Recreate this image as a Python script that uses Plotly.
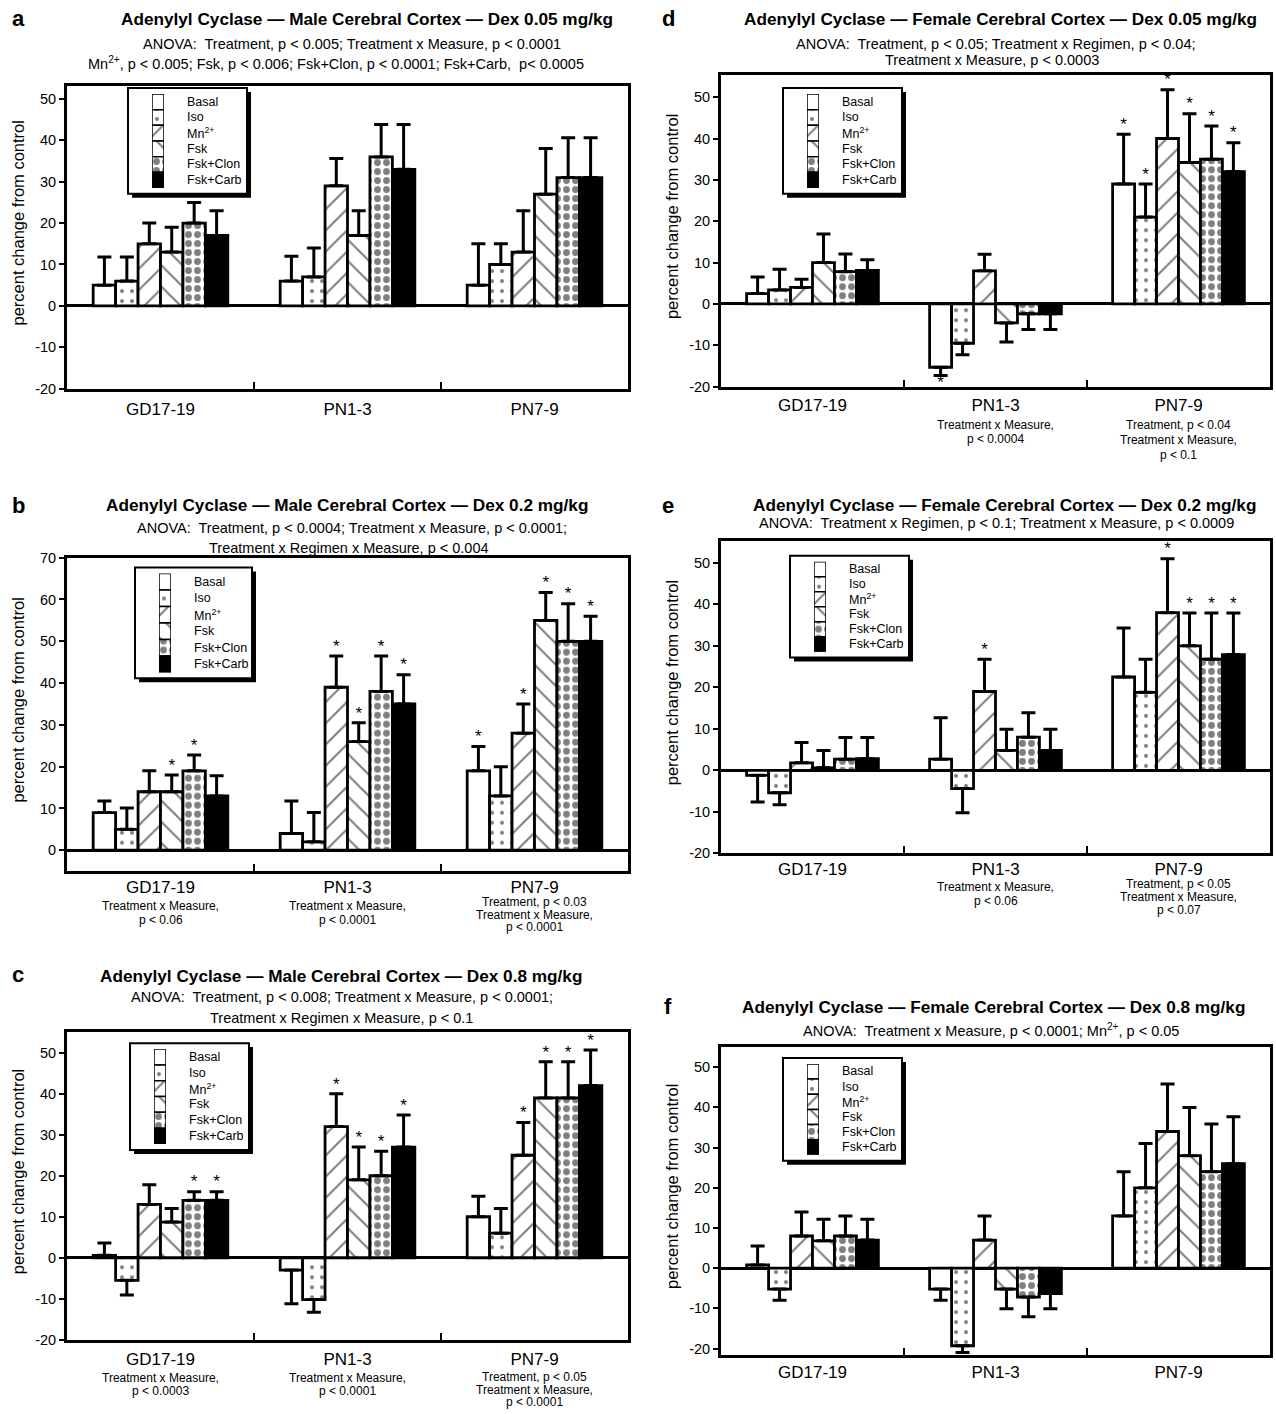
import plotly.graph_objects as go

W, H = 1276, 1414
FONT = "Liberation Sans, Arial, sans-serif"

CATEGORIES = ["GD17-19", "PN1-3", "PN7-9"]
MEASURES = ["Basal", "Iso", "Mn<sup>2+</sup>", "Fsk", "Fsk+Clon", "Fsk+Carb"]
TICKS_A = [-20, -10, 0, 10, 20, 30, 40, 50]
TICKS_B = [0, 10, 20, 30, 40, 50, 60, 70]
Y_TITLE = "percent change from control"

# ---- panel a : Male, Dex 0.05 (rows = measures, cols = categories)
A_VALUES = [[5, 6, 5], [6, 7, 10], [15, 29, 13], [13, 17, 27], [20, 36, 31], [17, 33, 31]]
A_ERRORS = [[6.8, 6, 10], [5.8, 7, 5], [5, 6.6, 10], [6, 6, 11], [5, 7.8, 9.6], [6, 10.8, 9.6]]
A_STARS = [[0, 0, 0], [0, 0, 0], [0, 0, 0], [0, 0, 0], [0, 0, 0], [0, 0, 0]]

# ---- panel b : Male, Dex 0.2
B_VALUES = [[9, 4, 19], [5, 2, 13], [14, 39, 28], [14, 26, 55], [19, 38, 50], [13, 35, 50]]
B_ERRORS = [[2.8, 7.8, 5.8], [5.1, 7, 7], [5, 7.5, 7], [4, 4.5, 6.7], [3.8, 8.5, 9], [4.8, 7, 6]]
B_STARS = [[0, 0, 1], [0, 0, 0], [0, 1, 1], [1, 1, 1], [1, 1, 1], [0, 1, 1]]

# ---- panel c : Male, Dex 0.8
C_VALUES = [[0.6, -3, 10], [-5.5, -10.2, 6], [13, 32, 25], [8.7, 19, 39], [14, 20, 39], [14, 27, 42]]
C_ERRORS = [[3, 8.2, 5], [3.6, 3.1, 6], [4.8, 8, 8], [3.3, 8, 8.8], [2.1, 6, 8.8], [2.1, 7.8, 8.7]]
C_STARS = [[0, 0, 0], [0, 0, 0], [0, 1, 1], [0, 1, 1], [1, 1, 1], [1, 1, 1]]

# ---- panel d : Female, Dex 0.05
D_VALUES = [[2.5, -15.3, 29], [3.4, -9.5, 21], [4, 8, 40], [10, -4.6, 34.2], [7.8, -2.4, 35], [8.1, -2.4, 32]]
D_ERRORS = [[4, 2, 12], [5, 2.8, 8], [2, 4, 11.8], [6.9, 4.6, 11.8], [4.3, 3.8, 8], [2.6, 3.8, 7]]
D_STARS = [[0, 1, 1], [0, 0, 1], [0, 0, 1], [0, 0, 1], [0, 0, 1], [0, 0, 1]]

# ---- panel e : Female, Dex 0.2
E_VALUES = [[-1.2, 2.7, 22.5], [-5.4, -4.4, 18.8], [1.8, 19, 38], [0.6, 4.8, 30], [2.7, 8, 26.8], [2.8, 4.8, 27.9]]
E_ERRORS = [[6.4, 10, 11.8], [2.9, 5.8, 8], [4.9, 7.8, 13], [4.2, 5.1, 7.9], [5.2, 5.9, 11.1], [5.1, 5.1, 10]]
E_STARS = [[0, 0, 0], [0, 0, 0], [0, 1, 1], [0, 0, 1], [0, 0, 1], [0, 0, 1]]

# ---- panel f : Female, Dex 0.8
F_VALUES = [[0.8, -5.2, 13], [-5.2, -19.3, 20], [8, 7, 34], [6.8, -5.2, 28], [8, -7.2, 24], [7, -6.3, 26]]
F_ERRORS = [[4.7, 2.8, 11], [2.8, 1.7, 11], [6, 6, 11.8], [5.4, 4.9, 12], [5, 4.9, 11.9], [5.2, 3.8, 11.7]]
F_STARS = [[0, 0, 0], [0, 0, 0], [0, 0, 0], [0, 0, 0], [0, 0, 0], [0, 0, 0]]

TITLE_A = "Adenylyl Cyclase \u2014 Male Cerebral Cortex \u2014 Dex 0.05 mg/kg"
TITLE_B = "Adenylyl Cyclase \u2014 Male Cerebral Cortex \u2014 Dex 0.2 mg/kg"
TITLE_C = "Adenylyl Cyclase \u2014 Male Cerebral Cortex \u2014 Dex 0.8 mg/kg"
TITLE_D = "Adenylyl Cyclase \u2014 Female Cerebral Cortex \u2014 Dex 0.05 mg/kg"
TITLE_E = "Adenylyl Cyclase \u2014 Female Cerebral Cortex \u2014 Dex 0.2 mg/kg"
TITLE_F = "Adenylyl Cyclase \u2014 Female Cerebral Cortex \u2014 Dex 0.8 mg/kg"

ANOVA_A = ["ANOVA:  Treatment, p < 0.005; Treatment x Measure, p < 0.0001",
           "Mn<sup>2+</sup>, p < 0.005; Fsk, p < 0.006; Fsk+Clon, p < 0.0001; Fsk+Carb,  p< 0.0005"]
ANOVA_B = ["ANOVA:  Treatment, p < 0.0004; Treatment x Measure, p < 0.0001;",
           "Treatment x Regimen x Measure, p < 0.004"]
ANOVA_C = ["ANOVA:  Treatment, p < 0.008; Treatment x Measure, p < 0.0001;",
           "Treatment x Regimen x Measure, p < 0.1"]
ANOVA_D = ["ANOVA:  Treatment, p < 0.05; Treatment x Regimen, p < 0.04;",
           "Treatment x Measure, p < 0.0003"]
ANOVA_E = ["ANOVA:  Treatment x Regimen, p < 0.1; Treatment x Measure, p < 0.0009"]
ANOVA_F = ["ANOVA:  Treatment x Measure, p < 0.0001; Mn<sup>2+</sup>, p < 0.05"]

NOTES_A = [[], [], []]
NOTES_B = [["Treatment x Measure,", "p < 0.06"], ["Treatment x Measure,", "p < 0.0001"],
           ["Treatment, p < 0.03", "Treatment x Measure,", "p < 0.0001"]]
NOTES_C = [["Treatment x Measure,", "p < 0.0003"], ["Treatment x Measure,", "p < 0.0001"],
           ["Treatment, p < 0.05", "Treatment x Measure,", "p < 0.0001"]]
NOTES_D = [[], ["Treatment x Measure,", "p < 0.0004"],
           ["Treatment, p < 0.04", "Treatment x Measure,", "p < 0.1"]]
NOTES_E = [[], ["Treatment x Measure,", "p < 0.06"],
           ["Treatment, p < 0.05", "Treatment x Measure,", "p < 0.07"]]
NOTES_F = [[], [], []]

# bar fill styles per measure
PATTERNS = [
    dict(color="white", pattern=None),
    dict(color="white", pattern=dict(shape=".", fgcolor="black", bgcolor="white", size=10, solidity=0.13)),
    dict(color="white", pattern=dict(shape="/", fgcolor="black", bgcolor="white", size=15, solidity=0.14)),
    dict(color="white", pattern=dict(shape="\\", fgcolor="black", bgcolor="white", size=15, solidity=0.14)),
    dict(color="white", pattern=dict(shape=".", fgcolor="black", bgcolor="white", size=9, solidity=0.45)),
    dict(color="black", pattern=None),
]

# layout per panel (pixel boxes)
PANELS = [
    dict(key="a", vals=A_VALUES, errs=A_ERRORS, stars=A_STARS, title=TITLE_A, anova=ANOVA_A, notes=NOTES_A,
         box=(67, 79, 628, 385), yr=(-20, 53.1), ticks=TICKS_A, letter=(18, 11), title_xy=(367, 11),
         anova_xy=[(352, 36), (336, 56)], legend=(128, 81, 119, 107), ytitle_x=18, standoff=3,
         note_y=[[], [], []]),
    dict(key="b", vals=B_VALUES, errs=B_ERRORS, stars=B_STARS, title=TITLE_B, anova=ANOVA_B, notes=NOTES_B,
         box=(67, 556, 628, 873), yr=(-5, 70), ticks=TICKS_B, letter=(18, 503), title_xy=(347, 503),
         anova_xy=[(352, 526), (349, 546)], legend=(135, 566, 117, 112), ytitle_x=18, standoff=-2,
         note_y=[[908, 922], [908, 922], [904, 917, 930]]),
    dict(key="c", vals=C_VALUES, errs=C_ERRORS, stars=C_STARS, title=TITLE_C, anova=ANOVA_C, notes=NOTES_C,
         box=(67, 1036, 628, 1347), yr=(-20, 55), ticks=TICKS_A, letter=(18, 978), title_xy=(341, 979),
         anova_xy=[(342, 1000), (341, 1022)], legend=(130, 1047, 119, 108), ytitle_x=18, standoff=2,
         note_y=[[1386, 1399], [1386, 1399], [1385, 1398, 1410]]),
    dict(key="d", vals=D_VALUES, errs=D_ERRORS, stars=D_STARS, title=TITLE_D, anova=ANOVA_D, notes=NOTES_D,
         box=(721, 68, 1270, 383), yr=(-20, 55.3), ticks=TICKS_A, letter=(668, 11), title_xy=(1000, 11),
         anova_xy=[(996, 36), (992, 53)], legend=(783, 81, 119, 107), ytitle_x=672, standoff=1,
         note_y=[[], [422, 436], [422, 437, 452]]),
    dict(key="e", vals=E_VALUES, errs=E_ERRORS, stars=E_STARS, title=TITLE_E, anova=ANOVA_E, notes=NOTES_E,
         box=(721, 539, 1270, 855), yr=(-20, 55.3), ticks=TICKS_A, letter=(668, 503), title_xy=(1004, 503),
         anova_xy=[(996, 521)], legend=(790, 554, 119, 103), ytitle_x=672, standoff=-2,
         note_y=[[], [889, 903], [886, 899, 912]]),
    dict(key="f", vals=F_VALUES, errs=F_ERRORS, stars=F_STARS, title=TITLE_F, anova=ANOVA_F, notes=NOTES_F,
         box=(721, 1051, 1270, 1362), yr=(-21.5, 55), ticks=TICKS_A, letter=(668, 1010), title_xy=(993, 1010),
         anova_xy=[(991, 1034)], legend=(783, 1062, 119, 104), ytitle_x=672, standoff=0,
         note_y=[[], [], []]),
]


def px(x):
    return x / W


def py(y):
    return 1 - y / H


fig = go.Figure()
layout = dict(
    width=W, height=H, margin=dict(l=0, r=0, t=0, b=0),
    paper_bgcolor="white", plot_bgcolor="white",
    font=dict(family=FONT, color="black"),
    barmode="group", bargap=0.28, bargroupgap=0.0,
    scattermode="group", scattergap=0.28,
    showlegend=False,
    annotations=[], shapes=[],
)


def ann(text, x, y, size, xanchor="center", **kw):
    d = dict(text=text, x=px(x), y=py(y), xref="paper", yref="paper", showarrow=False,
             xanchor=xanchor, yanchor="middle", font=dict(size=size, family=FONT, color="black"))
    d.update(kw)
    layout["annotations"].append(d)


n = len(PANELS)
for i, p in enumerate(PANELS, start=1):
    sfx = "" if i == 1 else str(i)
    xa, ya = "x" + sfx, "y" + sfx
    x0, y0, x1, y1 = p["box"]
    layout["xaxis" + sfx] = dict(
        domain=[px(x0), px(x1)], anchor=ya, type="category",
        categoryorder="array", categoryarray=CATEGORIES, range=[-0.5, 2.5],
        showline=True, mirror=True, linewidth=3, linecolor="black",
        ticks="inside", tickson="boundaries", ticklen=7, tickwidth=2, tickcolor="black",
        tickfont=dict(size=17, family=FONT), ticklabelstandoff=p["standoff"],
        showgrid=False, zeroline=False, fixedrange=True,
    )
    layout["yaxis" + sfx] = dict(
        domain=[py(y1), py(y0)], anchor=xa, range=list(p["yr"]),
        tickmode="array", tickvals=p["ticks"], ticktext=[str(t) for t in p["ticks"]],
        showline=True, mirror=True, linewidth=3, linecolor="black",
        ticks="outside", ticklen=5, tickwidth=2, tickcolor="black",
        tickfont=dict(size=14.5, family=FONT), showgrid=False,
        zeroline=True, zerolinewidth=3, zerolinecolor="black", fixedrange=True,
    )
    for m, name in enumerate(MEASURES):
        vals = p["vals"][m]
        errs = p["errs"][m]
        up = [e if v >= 0 else 0 for v, e in zip(vals, errs)]
        dn = [e if v < 0 else 0 for v, e in zip(vals, errs)]
        st = PATTERNS[m]
        marker = dict(color=st["color"], line=dict(color="black", width=2.8))
        if st["pattern"] is not None:
            marker["pattern"] = st["pattern"]
        fig.add_trace(go.Bar(
            x=CATEGORIES, y=vals, name=name, xaxis=xa, yaxis=ya,
            offsetgroup=str(m), marker=marker,
            error_y=dict(type="data", symmetric=False, array=up, arrayminus=dn,
                         color="black", thickness=3, width=7),
            hoverinfo="skip",
        ))
        # significance stars above / below the error bars (only where significant)
        ys, texts, poss = [], [], []
        for v, e, s in zip(vals, errs, p["stars"][m]):
            if not s:
                ys.append(None)
                texts.append(None)
                poss.append("top center")
                continue
            if v >= 0:
                ys.append(v + e)
                poss.append("top center")
            else:
                ys.append(v - e)
                poss.append("bottom center")
            texts.append("*")
        if any(p["stars"][m]):
            fig.add_trace(go.Scatter(
                x=CATEGORIES, y=ys, text=texts, mode="text", textposition=poss,
                textfont=dict(size=17, family=FONT, color="black"),
                xaxis=xa, yaxis=ya, offsetgroup=str(m),
                cliponaxis=False, hoverinfo="skip",
            ))

    # ---- legend: framed box with drop shadow, pattern key column and labels
    lx, ly, lw, lh = p["legend"]
    layout["shapes"].append(dict(
        type="rect", xref="paper", yref="paper", layer="below",
        x0=px(lx + 4), x1=px(lx + lw + 4), y0=py(ly + lh + 4), y1=py(ly + 4),
        fillcolor="black", line=dict(width=0)))
    layout["shapes"].append(dict(
        type="rect", xref="paper", yref="paper", layer="below",
        x0=px(lx), x1=px(lx + lw), y0=py(ly + lh), y1=py(ly),
        fillcolor="white", line=dict(color="black", width=2)))
    k = i + n
    kxa, kya = "x%d" % k, "y%d" % k
    top, bot = ly + 6, ly + lh - 6
    layout["xaxis%d" % k] = dict(domain=[px(lx + 24), px(lx + 36)], anchor=kya, range=[-0.5, 0.5],
                                 visible=False, fixedrange=True)
    layout["yaxis%d" % k] = dict(domain=[py(bot), py(top)], anchor=kxa, range=[0, len(MEASURES)],
                                 visible=False, fixedrange=True)
    step = (bot - top) / len(MEASURES)
    for m, name in enumerate(MEASURES):
        st = PATTERNS[m]
        marker = dict(color=st["color"], line=dict(color="black", width=1.5))
        if st["pattern"] is not None:
            marker["pattern"] = st["pattern"]
        fig.add_trace(go.Bar(
            x=[0], y=[1], base=[len(MEASURES) - 1 - m], width=1, offset=-0.5,
            xaxis=kxa, yaxis=kya, marker=marker, hoverinfo="skip", name=name,
        ))
        ann(name, lx + 57, top + step * (m + 0.5), 12.5, xanchor="left")

    # ---- letter, title, anova, axis title
    ann("<b>%s</b>" % p["key"], p["letter"][0], p["letter"][1], 22)
    ann("<b>%s</b>" % p["title"], p["title_xy"][0], p["title_xy"][1], 17.2)
    for line, (ax, ay) in zip(p["anova"], p["anova_xy"]):
        ann(line, ax, ay, 14.5)
    ann(Y_TITLE, p["ytitle_x"], (y0 + y1) / 2 - 14, 16.5, textangle=-90)

    # ---- notes under category labels
    for cat, lines, ys in zip(CATEGORIES, p["notes"], p["note_y"]):
        for line, yy in zip(lines, ys):
            layout["annotations"].append(dict(
                text=line, x=cat, xref=xa, y=py(yy), yref="paper", showarrow=False,
                xanchor="center", yanchor="middle", font=dict(size=12, family=FONT, color="black")))

fig.update_layout(**layout)
fig.write_html("out.html", config={"displayModeBar": False})
